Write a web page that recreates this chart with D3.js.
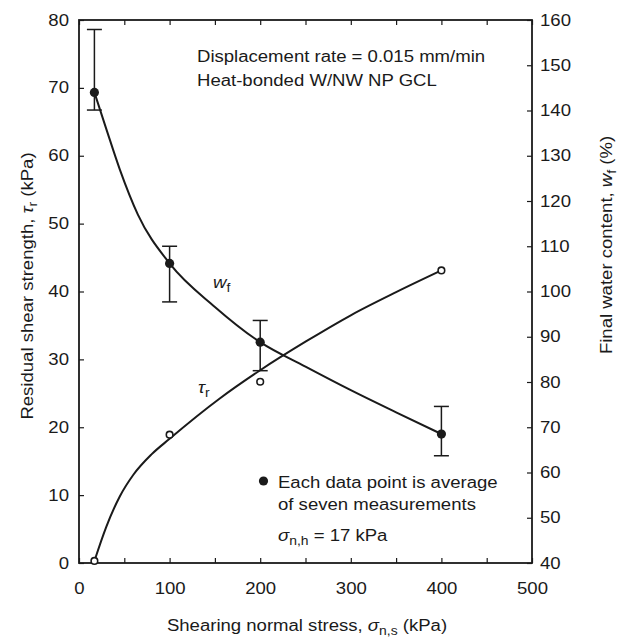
<!DOCTYPE html>
<html>
<head>
<meta charset="utf-8">
<script src="https://cdn.jsdelivr.net/npm/d3@7"></script>
<style>
  body { margin: 0; background: #fff; }
  svg { display: block; font-family: "Liberation Sans", Arial, Helvetica, sans-serif; }
</style>
</head>
<body>
<svg id="chart" width="621" height="641"></svg>
<script>
// Normal stress applied during shearing (kPa)
const stress = [17, 100, 200, 400];
// Residual shear strength, tau_r (kPa) – open circles, left axis
const tauR = [0.3, 18.9, 26.7, 43.1];
// Final water content, w_f (%) – filled circles, right axis
const wf = [144.0, 106.2, 88.8, 68.5];
const wfHigh = [157.9, 110.0, 93.6, 74.6];
const wfLow = [140.1, 97.7, 82.5, 63.7];

// Trend curves
const tauCurveX = [17, 30, 45, 60, 80, 100, 155, 200, 250, 300, 350, 400];
const tauCurveY = [0.3, 5.3, 9.8, 13.0, 16.0, 18.3, 24.2, 28.4, 32.6, 36.5, 39.9, 43.1];
const wfCurveX = [17, 30, 45, 65, 100, 150, 200, 250, 300, 350, 400];
const wfCurveY = [144.0, 136.0, 127.0, 117.0, 106.2, 96.6, 88.8, 83.4, 78.2, 73.3, 68.5];

// Axis ticks
const xTicks = [0, 50, 100, 150, 200, 250, 300, 350, 400, 450, 500];
const xLabels = [0, 100, 200, 300, 400, 500];
const yLeftTicks = [0, 10, 20, 30, 40, 50, 60, 70, 80];
const yRightTicks = [40, 50, 60, 70, 80, 90, 100, 110, 120, 130, 140, 150, 160];

const svg = d3.select("#chart");
const L = 79, R = 532, T = 20, B = 563;

const x = d3.scaleLinear().domain([0, 500]).range([L, R]);
const yL = d3.scaleLinear().domain([0, 80]).range([B, T]);
const yR = d3.scaleLinear().domain([40, 160]).range([B, T]);

const fs = 16;      // main text size
const sub = 12;     // subscript size
const SX = 1.16;    // horizontal widening of the lettering
const ink = "#1a1a1a";

// Move a text's x/y into a transform so it can be widened around its anchor
function widen(sel, extra = "") {
  sel.each(function () {
    const t = d3.select(this);
    const tx = +t.attr("x") || 0, ty = +t.attr("y") || 0;
    t.attr("x", null).attr("y", null)
      .attr("transform", `translate(${tx},${ty}) ${extra} scale(${SX},1)`);
  });
}

function styleAxis(g) {
  g.select(".domain").remove();
  g.selectAll(".tick line").attr("stroke", ink).attr("stroke-width", 1.2);
  g.selectAll(".tick text").attr("fill", ink).attr("font-size", fs).attr("font-family", null)
    .call(widen);
}

// Bottom axis (ticks inward, labels every 100)
svg.append("g").attr("transform", `translate(0,${B})`)
  .call(d3.axisBottom(x).tickValues(xTicks).tickSizeInner(-5).tickSizeOuter(0).tickPadding(20)
    .tickFormat(d => xLabels.includes(d) ? d : ""))
  .call(styleAxis);

// Top axis (ticks only)
svg.append("g").attr("transform", `translate(0,${T})`)
  .call(d3.axisTop(x).tickValues(xTicks).tickSizeInner(-5).tickSizeOuter(0).tickFormat(""))
  .call(styleAxis);

// Left axis
svg.append("g").attr("transform", `translate(${L},0)`)
  .call(d3.axisLeft(yL).tickValues(yLeftTicks).tickSizeInner(-5).tickSizeOuter(0).tickPadding(10))
  .call(styleAxis);

// Right axis
svg.append("g").attr("transform", `translate(${R},0)`)
  .call(d3.axisRight(yR).tickValues(yRightTicks).tickSizeInner(-5).tickSizeOuter(0).tickPadding(8))
  .call(styleAxis);

// Plot frame
svg.append("rect")
  .attr("x", L).attr("y", T).attr("width", R - L).attr("height", B - T)
  .attr("fill", "none").attr("stroke", ink).attr("stroke-width", 1.8);

// Curves
const tauLine = d3.line().x(d => x(d[0])).y(d => yL(d[1])).curve(d3.curveMonotoneX);
const wfLine = d3.line().x(d => x(d[0])).y(d => yR(d[1])).curve(d3.curveMonotoneX);

svg.append("path")
  .datum(tauCurveX.map((v, i) => [v, tauCurveY[i]]))
  .attr("d", tauLine).attr("fill", "none").attr("stroke", ink).attr("stroke-width", 2);

svg.append("path")
  .datum(wfCurveX.map((v, i) => [v, wfCurveY[i]]))
  .attr("d", wfLine).attr("fill", "none").attr("stroke", ink).attr("stroke-width", 2);

// Error bars on w_f
const eb = svg.append("g").attr("stroke", ink).attr("stroke-width", 1.5);
stress.forEach((s, i) => {
  const cx = x(s);
  eb.append("line").attr("x1", cx).attr("x2", cx).attr("y1", yR(wfHigh[i])).attr("y2", yR(wfLow[i]));
  eb.append("line").attr("x1", cx - 7.5).attr("x2", cx + 7.5).attr("y1", yR(wfHigh[i])).attr("y2", yR(wfHigh[i]));
  eb.append("line").attr("x1", cx - 7.5).attr("x2", cx + 7.5).attr("y1", yR(wfLow[i])).attr("y2", yR(wfLow[i]));
});

// Filled markers: w_f
svg.append("g").selectAll("circle").data(stress).join("circle")
  .attr("cx", d => x(d)).attr("cy", (d, i) => yR(wf[i])).attr("r", 4.6).attr("fill", ink);

// Open markers: tau_r
svg.append("g").selectAll("circle").data(stress).join("circle")
  .attr("cx", d => x(d)).attr("cy", (d, i) => yL(tauR[i])).attr("r", 3.3)
  .attr("fill", "#fff").attr("stroke", ink).attr("stroke-width", 1.6);

// Text helper: plain text with an optional italic symbol and subscript
function label(parent, tx, ty, parts, extra = "", anchor = "start") {
  const t = parent.append("text").attr("x", tx).attr("y", ty)
    .attr("font-size", fs).attr("fill", ink).attr("text-anchor", anchor);
  parts.forEach(p => {
    const s = t.append("tspan").text(p.t);
    if (p.it) s.attr("font-style", "italic");
    if (p.sub) s.attr("font-size", sub).attr("dy", 4);
    if (p.up) s.attr("dy", -4);
  });
  t.call(widen, extra);
  return t;
}

// Test conditions
label(svg, 197, 62, [{ t: "Displacement rate = 0.015 mm/min" }]);
label(svg, 197, 86, [{ t: "Heat-bonded W/NW NP GCL" }]);

// Curve labels
label(svg, 213, 288, [{ t: "w", it: true }, { t: "f", sub: true }]);
label(svg, 198, 393, [{ t: "τ", it: true }, { t: "r", sub: true }]);

// Legend
svg.append("circle").attr("cx", 263.5).attr("cy", 481).attr("r", 4.6).attr("fill", ink);
label(svg, 278, 488, [{ t: "Each data point is average" }]);
label(svg, 278, 510, [{ t: "of seven measurements" }]);
label(svg, 278, 541, [{ t: "σ", it: true }, { t: "n,h", sub: true }, { t: " = 17 kPa", up: true }]);

// Axis titles
label(svg, 307, 631, [{ t: "Shearing normal stress, " }, { t: "σ", it: true },
  { t: "n,s", sub: true }, { t: " (kPa)", up: true }], "", "middle");

label(svg, 33, 286, [{ t: "Residual shear strength, " }, { t: "τ", it: true },
  { t: "r", sub: true }, { t: " (kPa)", up: true }], "rotate(-90)", "middle");

label(svg, 612, 245, [{ t: "Final water content, " }, { t: "w", it: true },
  { t: "f", sub: true }, { t: " (%)", up: true }], "rotate(-90)", "middle");
</script>
</body>
</html>
